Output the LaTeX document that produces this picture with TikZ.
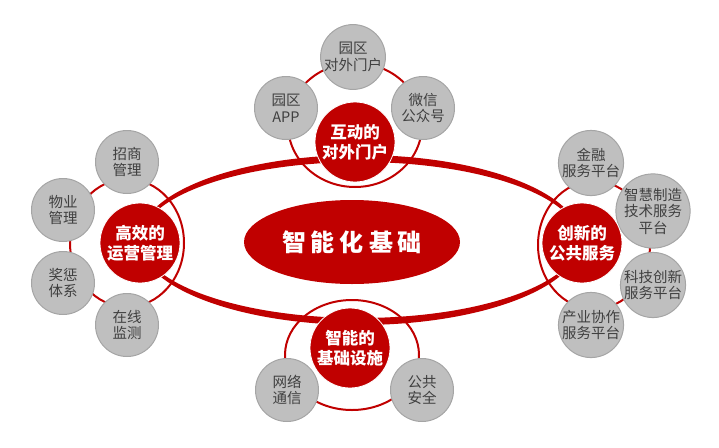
\documentclass[tikz,border=0pt]{standalone}
\usepackage{fontspec}
\newfontfamily\cjk{Noto Sans CJK SC}
\usetikzlibrary{shapes.geometric, positioning}
\definecolor{brandred}{HTML}{C00000}
\definecolor{leafgray}{HTML}{BFBFBF}
\definecolor{leafedge}{HTML}{A5A5A5}
\definecolor{leaftext}{HTML}{404040}

\begin{document}
\begin{tikzpicture}[
  x=1pt, y=-1pt,
  hub/.style={circle, fill=brandred, draw=white, line width=0.8pt,
    minimum size=80pt, inner sep=0pt, align=center, text=white,
    font=\cjk\bfseries\fontsize{16.5}{20}\selectfont},
  leaf/.style={circle, fill=leafgray, draw=leafedge, line width=1pt,
    minimum size=63pt, inner sep=0pt, align=center, text=leaftext,
    font=\cjk\fontsize{14.5}{16.5}\selectfont},
  core/.style={ellipse, fill=brandred, minimum width=216pt,
    minimum height=84pt, inner sep=0pt, text=white,
    font=\cjk\bfseries\fontsize{24}{26}\selectfont},
  ring/.style={draw=brandred, line width=2pt},
  rope/.style={fill=brandred, even odd rule}
]
  \useasboundingbox (0,0) rectangle (719,447);

  % Ring centres around each hub.
  \coordinate (rtop) at (355,125);
  \coordinate (rleft) at (127,243);
  \coordinate (rright) at (594,245);
  \coordinate (rbot) at (352,355);

  % Thin rings.
  \draw[ring] (rtop) ellipse [x radius=67, y radius=62];
  \draw[ring] (rleft) ellipse [x radius=57, y radius=64];
  \draw[ring] (rright) ellipse [x radius=56, y radius=64];
  \draw[ring] (rbot) ellipse [x radius=67, y radius=55];

  % Thick band round the middle.
  \coordinate (mid) at (360,240);
  \fill[rope] (mid) ellipse [x radius=221, y radius=85]
              (mid) ellipse [x radius=219, y radius=78];

  % Top group.
  \node[leaf] (appnode) at (286,108) {园区\\APP};
  \node[leaf] (webportal) at (353,57) {园区\\对外门户};
  \node[leaf] (wechat) at (423,108) {微信\\公众号};
  \node[hub] (htop) at (355,142) {互动的\\对外门户};

  % Left group.
  \node[leaf] (invest) at (127,162) {招商\\管理};
  \node[leaf] (estate) at (63,210) {物业\\管理};
  \node[leaf] (reward) at (63,283) {奖惩\\体系};
  \node[leaf] (monitor) at (127,325) {在线\\监测};
  \node[hub] (hleft) at (140,243) {高效的\\运营管理};

  % Right group.
  \node[leaf] (finance) at (591,163) {金融\\服务平台};
  \node[leaf] (manuf) at (653,211) {智慧制造\\技术服务\\平台};
  \node[leaf] (techinno) at (653,285) {科技创新\\服务平台};
  \node[leaf] (industry) at (591,325) {产业协作\\服务平台};
  \node[hub] (hright) at (582,243) {创新的\\公共服务};

  % Bottom group.
  \node[leaf] (network) at (287,390) {网络\\通信};
  \node[leaf] (safety) at (422,390) {公共\\安全};
  \node[hub] (hbot) at (350,348) {智能的\\基础设施};

  % Centre.
  \node[core] (base) at (352,242) {智\hspace{5pt}能\hspace{5pt}化\hspace{5pt}基\hspace{5pt}础};
\end{tikzpicture}
\end{document}
